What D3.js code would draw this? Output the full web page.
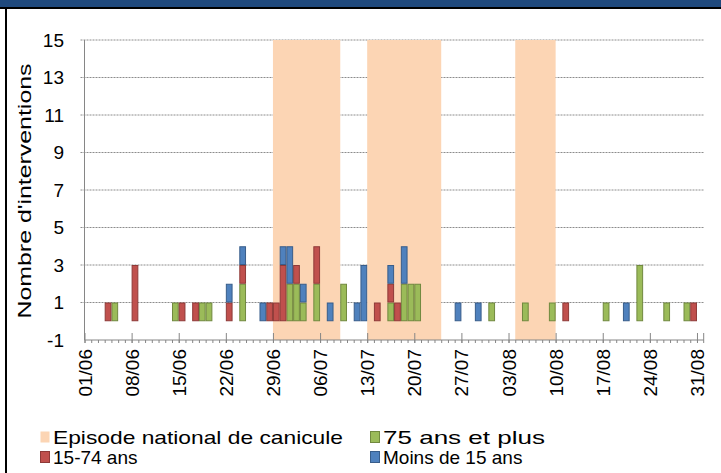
<!DOCTYPE html>
<html>
<head>
<meta charset="utf-8">
<title>Nombre d'interventions par jour</title>
<script src="https://cdn.jsdelivr.net/npm/d3@7"></script>
<style>
  body { margin: 0; background: #fff; }
  svg text { font-family: "Liberation Sans", Arial, sans-serif; fill: #000; }
</style>
</head>
<body>
<div id="chart"></div>
<script>
// jours portant une ou plusieurs interventions
var barDates = ["04/06","05/06","08/06","14/06","15/06","17/06","18/06","19/06","22/06","24/06",
                "27/06","28/06","29/06","30/06","01/07","02/07","03/07","05/07","07/07","09/07",
                "11/07","12/07","14/07","16/07","17/07","18/07","19/07","20/07","26/07","29/07",
                "31/07","05/08","09/08","11/08","17/08","20/08","22/08","26/08","29/08","30/08"];
var plus75   = [0,1,0,1,0,0,1,1,0,2, 0,0,0,0,2,2,1,2,0,2, 0,0,0,1,0,2,2,2,0,0, 1,1,1,0,1,0,3,1,1,0];
var ans1574  = [1,0,3,0,1,1,0,0,1,1, 0,1,1,3,0,1,0,2,0,0, 0,0,1,1,1,0,0,0,0,0, 0,0,0,1,0,0,0,0,0,1];
var moins15  = [0,0,0,0,0,0,0,0,1,1, 1,0,0,1,2,0,1,0,1,0, 1,3,0,1,0,2,0,0,1,1, 0,0,0,0,0,1,0,0,0,0];

// episodes nationaux de canicule (premier et dernier jour)
var canicule = [["29/06","08/07"], ["13/07","23/07"], ["04/08","09/08"]];

var tickLabels = ["01/06","08/06","15/06","22/06","29/06","06/07","13/07","20/07",
                  "27/07","03/08","10/08","17/08","24/08","31/08"];
var yTicks = [-1, 1, 3, 5, 7, 9, 11, 13, 15];

var seriesNames = ["75 ans et plus", "15-74 ans", "Moins de 15 ans"];
var seriesFill = ["#9bbb59", "#c0504d", "#4f81bd"];
var seriesStroke = ["#71893f", "#8e3a38", "#385d8a"];
var bandColor = "#fcd5b4";

var W = 721, H = 473;
var svg = d3.select("#chart").append("svg").attr("width", W).attr("height", H);

// cadre du document
svg.append("rect").attr("x", 0).attr("y", 0).attr("width", W).attr("height", 7).attr("fill", "#1f497d");
svg.append("rect").attr("x", 0).attr("y", 7).attr("width", W).attr("height", 2).attr("fill", "#000");
svg.append("rect").attr("x", 5).attr("y", 7).attr("width", 2).attr("height", H).attr("fill", "#000");

var parse = d3.timeParse("%d/%m/%Y");
var fmt = d3.timeFormat("%d/%m");
var allDays = d3.timeDay.range(parse("01/06/2019"), parse("01/09/2019")).map(fmt);

var x = d3.scaleBand().domain(allDays).range([84.5, 703.7]).padding(0);
var y = d3.scaleLinear().domain([-1, 15]).range([340, 40]);
var x0 = 84.5, x1 = 703.7;

// grille
svg.append("g").selectAll("line").data(yTicks.filter(function(d) { return d > -1; }))
  .enter().append("line")
  .attr("x1", x0 - 4).attr("x2", x1)
  .attr("y1", function(d) { return y(d); }).attr("y2", function(d) { return y(d); })
  .attr("stroke", "#8c8c8c").attr("stroke-width", 1).attr("stroke-dasharray", "2,1");

// bandes canicule
svg.append("g").selectAll("rect").data(canicule).enter().append("rect")
  .attr("x", function(d) { return x(d[0]); })
  .attr("width", function(d) { return x(d[1]) + x.bandwidth() - x(d[0]); })
  .attr("y", y(15)).attr("height", y(-1) - y(15))
  .attr("fill", bandColor);

// barres empilees
var rows = barDates.map(function(d, i) {
  return { date: d, s0: plus75[i], s1: ans1574[i], s2: moins15[i] };
});
var stack = d3.stack().keys(["s0", "s1", "s2"])(rows);
var bars = svg.append("g").selectAll("g").data(stack).enter().append("g")
  .attr("fill", function(d, i) { return seriesFill[i]; })
  .attr("stroke", function(d, i) { return seriesStroke[i]; })
  .attr("stroke-width", 1);
bars.selectAll("rect").data(function(d) { return d.filter(function(p) { return p[1] > p[0]; }); })
  .enter().append("rect")
  .attr("x", function(d) { return x(d.data.date) + 0.5; })
  .attr("width", x.bandwidth() - 1)
  .attr("y", function(d) { return y(d[1]) + 0.5; })
  .attr("height", function(d) { return y(d[0]) - y(d[1]) - 1; });

// axe Y
svg.append("line").attr("x1", x0).attr("x2", x0).attr("y1", y(15)).attr("y2", y(-1))
  .attr("stroke", "#868686");
svg.append("g").selectAll("text").data(yTicks).enter().append("text")
  .attr("x", 64).attr("y", function(d) { return y(d); }).attr("dy", "0.36em")
  .attr("text-anchor", "end").style("font-size", "19px")
  .text(function(d) { return d; });
svg.append("text")
  .attr("transform", "translate(31,191) rotate(-90)")
  .attr("text-anchor", "middle").style("font-size", "19px")
  .attr("textLength", 255).attr("lengthAdjust", "spacingAndGlyphs")
  .text("Nombre d'interventions");

// axe X
svg.append("line").attr("x1", x0).attr("x2", x1).attr("y1", y(-1)).attr("y2", y(-1))
  .attr("stroke", "#868686");
svg.append("g").selectAll("line").data(allDays).enter().append("line")
  .attr("x1", function(d) { return x(d) + 0.5; }).attr("x2", function(d) { return x(d) + 0.5; })
  .attr("y1", y(-1)).attr("y2", y(-1) + 3).attr("stroke", "#868686");
svg.append("g").selectAll("line").data(tickLabels).enter().append("line")
  .attr("x1", function(d) { return x(d) + 0.5; }).attr("x2", function(d) { return x(d) + 0.5; })
  .attr("y1", y(-1) - 7).attr("y2", y(-1) + 3).attr("stroke", "#868686");
svg.append("line").attr("x1", x1).attr("x2", x1).attr("y1", y(-1) - 7).attr("y2", y(-1) + 3)
  .attr("stroke", "#868686");
svg.append("g").selectAll("text").data(tickLabels).enter().append("text")
  .attr("transform", function(d) { return "translate(" + (x(d) + 7) + "," + 349 + ") rotate(-90)"; })
  .attr("text-anchor", "end").style("font-size", "19px")
  .text(function(d) { return d; });

// legende
var legend = [
  { label: "Episode national de canicule", color: bandColor, stroke: "none", x: 40, y: 437, len: 290 },
  { label: seriesNames[0], color: seriesFill[0], stroke: seriesStroke[0], x: 370, y: 437, len: 162 },
  { label: seriesNames[1], color: seriesFill[1], stroke: seriesStroke[1], x: 40, y: 457, len: 0 },
  { label: seriesNames[2], color: seriesFill[2], stroke: seriesStroke[2], x: 370, y: 457, len: 0 }
];
var lg = svg.append("g").selectAll("g").data(legend).enter().append("g");
lg.append("rect")
  .attr("x", function(d) { return d.x + 0.5; }).attr("y", function(d) { return d.y - 5.5; })
  .attr("width", 9).attr("height", 11)
  .attr("fill", function(d) { return d.color; }).attr("stroke", function(d) { return d.stroke; });
lg.append("text")
  .attr("x", function(d) { return d.x + 13; }).attr("y", function(d) { return d.y + 7; })
  .style("font-size", "19px")
  .each(function(d) {
    if (d.len) d3.select(this).attr("textLength", d.len).attr("lengthAdjust", "spacingAndGlyphs");
  })
  .text(function(d) { return d.label; });
</script>
</body>
</html>
